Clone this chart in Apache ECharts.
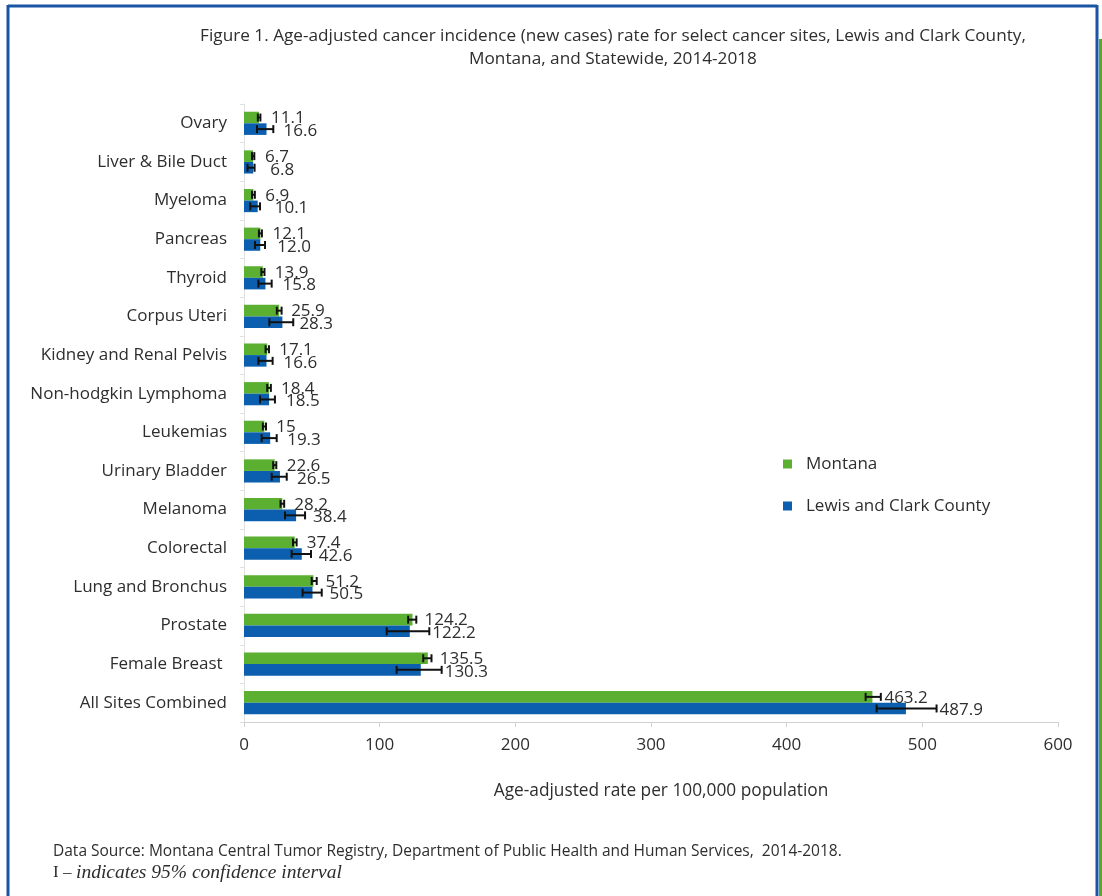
<!DOCTYPE html>
<html>
<head>
<meta charset="utf-8">
<script src="https://cdn.jsdelivr.net/npm/echarts@6/dist/echarts.min.js"></script>
<style>
html,body{margin:0;padding:0;background:#ffffff;}
#chart{width:1102px;height:896px;}
</style>
</head>
<body>
<div id="chart"></div>
<script>
const categories = ['Ovary','Liver & Bile Duct','Myeloma','Pancreas','Thyroid','Corpus Uteri','Kidney and Renal Pelvis','Non-hodgkin Lymphoma','Leukemias','Urinary Bladder','Melanoma','Colorectal','Lung and Bronchus','Prostate','Female Breast ','All Sites Combined'];
const montana =       [11.1, 6.7, 6.9, 12.1, 13.9, 25.9, 17.1, 18.4, 15.0, 22.6, 28.2, 37.4, 51.2, 124.2, 135.5, 463.2];
const montanaLow =    [10.2, 5.9, 5.9, 11.0, 12.8, 24.2, 15.9, 17.1, 13.9, 21.5, 26.9, 36.1, 49.9, 121.0, 132.1, 458.2];
const montanaHigh =   [12.1, 7.6, 8.0, 13.2, 15.1, 27.7, 18.4, 19.8, 16.2, 23.8, 29.6, 38.8, 53.6, 127.0, 138.2, 469.4];
const montanaLabels = ['11.1','6.7','6.9','12.1','13.9','25.9','17.1','18.4','15','22.6','28.2','37.4','51.2','124.2','135.5','463.2'];
const lcc =           [16.6, 6.8, 10.1, 12.0, 15.8, 28.3, 16.6, 18.5, 19.3, 26.5, 38.4, 42.6, 50.5, 122.2, 130.3, 487.9];
const lccLow =        [ 9.6, 2.6,  4.6,  8.1, 10.6, 18.7, 10.6, 11.8, 13.0, 20.4, 30.2, 35.1, 43.2, 105.2, 112.5, 466.3];
const lccHigh =       [21.6, 7.8, 11.8, 15.5, 20.4, 36.3, 21.1, 22.8, 24.1, 31.5, 45.0, 49.4, 57.3, 136.6, 145.7, 510.5];
const lccLabels =     ['16.6','6.8','10.1','12.0','15.8','28.3','16.6','18.5','19.3','26.5','38.4','42.6','50.5','122.2','130.3','487.9'];
const xTicks = [0, 100, 200, 300, 400, 500, 600];

const GREEN = '#5bb031';
const BLUE = '#0b5fae';
const FONT = 'Open Sans';
const TEXT = '#2e2e2e';

const chart = echarts.init(document.getElementById('chart'), null, {renderer: 'canvas'});

function errSeries(name, vals, lows, highs, labels, side, barGap, capGap, dy) {
  return {
    type: 'custom',
    name: name,
    z: 10,
    silent: true,
    encode: {x: [1, 2], y: 0},
    data: categories.map((c, i) => [i, lows[i], highs[i], vals[i]]),
    renderItem: function (params, api) {
      const i = api.value(0);
      const pLo = api.coord([api.value(1), i]);
      const pHi = api.coord([api.value(2), i]);
      const pV = api.coord([api.value(3), i]);
      const band = api.size([0, 1])[1];
      const bw = band * 0.6 / 2;
      const cy = pLo[1] + side * bw / 2;
      const cap = 4;
      const st = {stroke: '#111', lineWidth: 2};
      const tx = Math.max(pV[0] + barGap, pHi[0] + capGap);
      return {
        type: 'group',
        children: [
          {type: 'line', shape: {x1: pLo[0], y1: cy, x2: pHi[0], y2: cy}, style: st},
          {type: 'line', shape: {x1: pLo[0], y1: cy - cap, x2: pLo[0], y2: cy + cap}, style: st},
          {type: 'line', shape: {x1: pHi[0], y1: cy - cap, x2: pHi[0], y2: cy + cap}, style: st},
          {type: 'text', x: tx, y: cy + dy, style: {text: labels[params.dataIndex], fill: TEXT, font: '17px "' + FONT + '"', textAlign: 'left', textVerticalAlign: 'middle'}}
        ]
      };
    }
  };
}

const option = {
  backgroundColor: '#ffffff',
  animation: false,
  textStyle: {fontFamily: FONT},
  grid: {left: 244, right: 44, top: 104, bottom: 174, containLabel: false},
  legend: {
    data: ['Montana', 'Lewis and Clark County'],
    orient: 'vertical',
    left: 783,
    top: 454,
    padding: 0,
    itemWidth: 9,
    itemHeight: 9,
    itemGap: 22,
    icon: 'rect',
    textStyle: {fontSize: 17, color: TEXT, fontFamily: FONT, lineHeight: 20, padding: [0, 0, 0, 9]}
  },
  xAxis: {
    type: 'value',
    min: xTicks[0],
    max: xTicks[xTicks.length - 1],
    interval: 100,
    splitLine: {show: false},
    axisLine: {show: true, lineStyle: {color: '#d0d0d0', width: 1}},
    axisTick: {show: true, length: 5, lineStyle: {color: '#d0d0d0'}},
    axisLabel: {fontSize: 17, color: TEXT, margin: 15, fontFamily: FONT}
  },
  yAxis: {
    type: 'category',
    inverse: true,
    data: categories,
    axisLine: {show: true, lineStyle: {color: '#e0e0e0'}},
    axisTick: {show: true, length: 4, lineStyle: {color: '#e0e0e0'}},
    axisLabel: {fontSize: 17, color: TEXT, margin: 17, fontFamily: FONT}
  },
  series: [
    {name: 'Montana', type: 'bar', data: montana, barGap: '0%', barCategoryGap: '40%', itemStyle: {color: GREEN}},
    {name: 'Lewis and Clark County', type: 'bar', data: lcc, barGap: '0%', barCategoryGap: '40%', itemStyle: {color: BLUE}},
    errSeries('errM', montana, montanaLow, montanaHigh, montanaLabels, -1, 12, 2, 1),
    errSeries('errL', lcc, lccLow, lccHigh, lccLabels, 1, 17, 3, 2)
  ],
  graphic: [
    {type: 'line', shape: {x1: 8, y1: 6, x2: 1097, y2: 6}, style: {stroke: '#1a55a3', lineWidth: 3}},
    {type: 'line', shape: {x1: 8, y1: 5, x2: 8, y2: 896}, style: {stroke: '#1a55a3', lineWidth: 3}},
    {type: 'line', shape: {x1: 1097, y1: 5, x2: 1097, y2: 896}, style: {stroke: '#1a55a3', lineWidth: 3}},
    {type: 'rect', shape: {x: 1099, y: 39, width: 3, height: 857}, style: {fill: '#5aa62b'}},
    {type: 'text', x: 613, y: 36, style: {text: 'Figure 1. Age-adjusted cancer incidence (new cases) rate for select cancer sites, Lewis and Clark County,', font: '17.2px "' + FONT + '"', fill: TEXT, textAlign: 'center', textVerticalAlign: 'middle'}},
    {type: 'text', x: 613, y: 59, style: {text: 'Montana, and Statewide, 2014-2018', font: '17.2px "' + FONT + '"', fill: TEXT, textAlign: 'center', textVerticalAlign: 'middle'}},
    {type: 'text', x: 661, y: 791, style: {text: 'Age-adjusted rate per 100,000 population', font: '17.3px "' + FONT + '"', fill: TEXT, textAlign: 'center', textVerticalAlign: 'middle'}},
    {type: 'text', x: 53, y: 852, style: {text: 'Data Source: Montana Central Tumor Registry, Department of Public Health and Human Services,  2014-2018.', font: '15.5px "' + FONT + '"', fill: TEXT, textAlign: 'left', textVerticalAlign: 'middle'}},
    {type: 'text', x: 53, y: 873, style: {text: 'I – ', font: '17px "Liberation Serif"', fill: TEXT, textAlign: 'left', textVerticalAlign: 'middle'}},
    {type: 'text', x: 76, y: 873, style: {text: 'indicates 95% confidence interval', font: 'italic 19.5px "Liberation Serif"', fill: TEXT, textAlign: 'left', textVerticalAlign: 'middle'}}
  ]
};
chart.setOption(option);
</script>
</body>
</html>
